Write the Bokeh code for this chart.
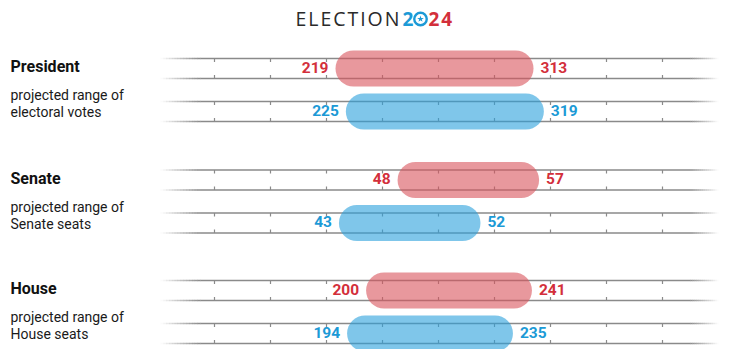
from bokeh.plotting import figure
from bokeh.models import Range1d
from bokeh.core.properties import value
from bokeh.embed import file_html
from bokeh.resources import INLINE

# ---------------- data ----------------
races = ["President", "Senate", "House"]
subtitle_1 = ["projected range of", "projected range of", "projected range of"]
subtitle_2 = ["electoral votes", "Senate seats", "House seats"]
rep_low = [219, 48, 200]
rep_high = [313, 57, 241]
dem_low = [225, 43, 194]
dem_high = [319, 52, 235]

# value domains of each section's own horizontal scale (across the full plot width)
domains = {"President": (14.17, 437.75), "Senate": (12.60, 74.86), "House": (78.88, 309.38)}

# ---------------- style ----------------
W, H = 730, 349
RED_BAR, BLUE_BAR = "#d9535b", "#2aa0dc"
RED_TXT, BLUE_TXT = "#d32f3b", "#1c9ad6"
GRAY = "#8a8a8a"
FONT = value("Roboto")

p = figure(width=W, height=H, output_backend="svg", toolbar_location=None,
           x_range=Range1d(0, W), y_range=Range1d(H, 0),
           min_border=0, outline_line_color=None)
p.axis.visible = False
p.grid.visible = False
p.background_fill_color = "white"
p.border_fill_color = "white"

p.extra_x_ranges = {name: Range1d(a, b) for name, (a, b) in domains.items()}

section_off = [0, 111.5, 222]
red_c, blue_c = 68, 111
tick_x = [214 + 56 * k for k in range(9)]
solid_l, solid_r, fade_l, fade_r = 200, 690, 160, 718

# ---- guide lines with faded ends ----
seg = {"x0": [], "x1": [], "y": [], "a": []}
n = 14
for off in section_off:
    for c in (red_c, blue_c):
        for ly in (c - 10, c + 10):
            y = ly + off
            seg["x0"].append(solid_l); seg["x1"].append(solid_r); seg["y"].append(y); seg["a"].append(1.0)
            for k in range(n):
                xa = fade_l + (solid_l - fade_l) * k / n
                xb = fade_l + (solid_l - fade_l) * (k + 1) / n
                seg["x0"].append(xa); seg["x1"].append(xb + 0.3); seg["y"].append(y); seg["a"].append((k + 0.5) / n)
                xa = solid_r + (fade_r - solid_r) * k / n
                xb = solid_r + (fade_r - solid_r) * (k + 1) / n
                seg["x0"].append(xa - 0.3); seg["x1"].append(xb); seg["y"].append(y); seg["a"].append(1 - (k + 0.5) / n)
p.segment(x0=seg["x0"], y0=seg["y"], x1=seg["x1"], y1=seg["y"], line_color=GRAY,
          line_alpha=seg["a"], line_width=1.5)

# ticks
tx0, ty0, ty1 = [], [], []
for off in section_off:
    for c in (red_c, blue_c):
        for tx in tick_x:
            tx0 += [tx, tx]
            ty0 += [c - 10 + off, c + 10 + off]
            ty1 += [c - 10 + off + 3.5, c + 10 + off - 3.5]
p.segment(x0=tx0, y0=ty0, x1=tx0, y1=ty1, line_color=GRAY, line_width=1.2)

# ---- bars and value labels ----
for i, race in enumerate(races):
    off = section_off[i]
    for lo, hi, c, bar, txt in ((rep_low[i], rep_high[i], red_c, RED_BAR, RED_TXT),
                                (dem_low[i], dem_high[i], blue_c, BLUE_BAR, BLUE_TXT)):
        y = c + off
        p.segment(x0=[lo], y0=[y], x1=[hi], y1=[y], line_width=36, line_cap="round",
                  line_color=bar, line_alpha=0.6, x_range_name=race)
        p.text(x=[lo], y=[y - 1.5], text=[str(lo)], x_offset=-25, text_align="right",
               text_baseline="middle", text_font=FONT, text_font_style="bold",
               text_font_size="15.5px", text_color=txt, x_range_name=race)
        p.text(x=[hi], y=[y - 1.5], text=[str(hi)], x_offset=25, text_align="left",
               text_baseline="middle", text_font=FONT, text_font_style="bold",
               text_font_size="15.5px", text_color=txt, x_range_name=race)
    # left labels
    p.text(x=[10], y=[66 + off], text=[race], text_font=FONT, text_font_style="bold",
           text_font_size="16px", text_color="#111111", text_baseline="alphabetic")
    p.text(x=[10, 10], y=[94.5 + off, 111.5 + off], text=[subtitle_1[i], subtitle_2[i]],
           text_font=FONT, text_font_size="14px", text_color="#1a1a1a",
           text_baseline="alphabetic")

# ---- title ----
TF = value("Open Sans")
HS = "\u200a"
p.text(x=[295], y=[18], text=[HS.join("ELECTION")], text_font=TF,
       text_font_size="19.5px", text_color="#2a2a2a", text_baseline="alphabetic")
p.text(x=[402], y=[18], text=["2"], text_font=TF, text_font_style="bold",
       text_font_size="19px", text_color=BLUE_TXT, text_baseline="alphabetic")
p.scatter(x=[420], y=[18.5], marker="circle", size=12.5, fill_color=None,
          line_color=BLUE_TXT, line_width=2.4)
p.scatter(x=[420], y=[18.5], marker="star", size=7, fill_color=BLUE_TXT, line_color=None)
p.text(x=[428], y=[18], text=["2" + HS + "4"], text_font=TF, text_font_style="bold",
       text_font_size="19px", text_color=RED_TXT, text_baseline="alphabetic")

open("out.html", "w").write(file_html(p, INLINE))
